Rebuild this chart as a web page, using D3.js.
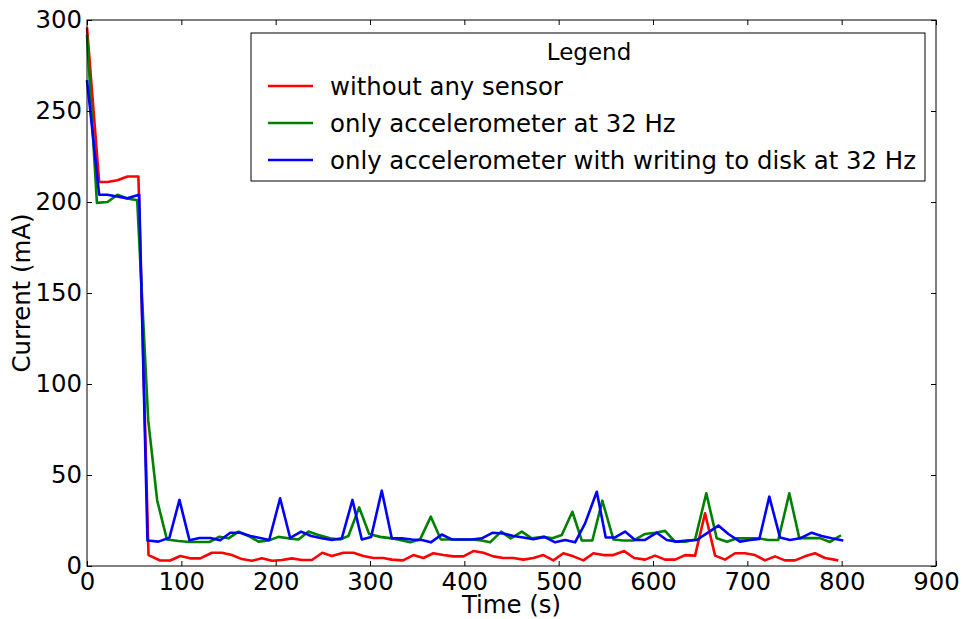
<!DOCTYPE html>
<html>
<head>
<meta charset="utf-8">
<script src="https://cdn.jsdelivr.net/npm/d3@7"></script>
<style>
  body { margin: 0; background: #fff; }
  text { font-family: "DejaVu Sans", sans-serif; }
</style>
</head>
<body>
<div id="chart"></div>
<script>
// time stamps (s) and current (mA)
var redTime = [0, 12.9, 21.7, 32.3, 42.9, 54.5, 65.2, 77.6, 88.2, 98.8, 109.4, 120, 132.4, 143, 153.6, 164.2, 174.8, 185.4, 196, 206.6, 217.2, 227.8, 238.4, 249.5, 259.5, 271.8, 282.4, 293, 303.6, 314.2, 323, 335, 346, 356.6, 367.2, 377.8, 388.4, 399, 409.6, 420.2, 430.8, 441.4, 452, 462.6, 473.2, 483.8, 494.4, 505, 515.6, 526.2, 536.8, 547.4, 558, 569.5, 580, 591.6, 602.2, 612.8, 623.4, 634, 644.6, 655.2, 665.8, 676.4, 687, 697.5, 708.1, 718.7, 729.3, 739.9, 750.5, 761.1, 771.7, 782.3, 796.4];
var redCurrent = [296, 211, 211, 212, 214, 214, 6, 3, 3, 5.5, 4.2, 4.2, 7.3, 7.3, 6, 3.8, 2.9, 4.2, 2.9, 3.3, 4.2, 3.3, 3.3, 7.3, 5.5, 7.3, 7.3, 5.5, 4.4, 4.4, 3.5, 3.1, 6, 4.4, 7, 6, 5.3, 5.3, 8.2, 7.3, 5.3, 4.4, 4.4, 3.5, 4.4, 6, 3.1, 7, 5.3, 3.1, 7, 6, 6, 8.2, 4.4, 3.5, 5.7, 3.5, 3.5, 6, 5.7, 29, 5.7, 3.5, 7, 7, 6, 3.1, 5.3, 3.1, 3.1, 5.3, 7, 4.4, 3.1];

var greenTime = [0, 10.5, 21.7, 32.3, 42.6, 53.2, 64.9, 74.4, 84.7, 97, 108.6, 119.2, 129.8, 140.4, 150, 160.6, 171.2, 181.8, 192.4, 203, 213.5, 224.1, 234.7, 245.3, 257.7, 268.3, 277.1, 288.5, 299.1, 310.7, 323.1, 331.9, 342.5, 353.1, 364.5, 375.1, 385.7, 397.3, 407.9, 418.5, 427.3, 439, 449.2, 460.9, 471.5, 483.8, 493.3, 503.3, 514.5, 524.5, 535.7, 546.3, 558, 568.6, 579.2, 591.6, 602.2, 612.8, 623.4, 634, 644.6, 656.5, 667.6, 678.5, 689.1, 699.7, 711.6, 722.2, 732.8, 744.5, 755.1, 766.4, 777, 787.6, 799.3];
var greenCurrent = [292, 199.5, 200, 204, 202, 201, 80, 36, 14.6, 13.7, 13.2, 13.2, 13.2, 16.1, 15.2, 18.9, 16.5, 13.4, 14, 16, 15.2, 14.6, 18.9, 17, 15.2, 14.6, 16.5, 32.2, 17.6, 16, 15.2, 14.3, 13, 14.6, 27.1, 14.6, 14.6, 14.6, 14.6, 14, 13, 18.9, 15.2, 18.9, 15.2, 16, 15.2, 17, 29.8, 14, 14, 35.9, 14.6, 14, 14, 17.6, 18.3, 19.3, 13.3, 13.3, 14.5, 39.9, 15.2, 13.3, 15.2, 15.2, 15.2, 14.3, 14.3, 39.9, 15.3, 15.3, 15.3, 13.2, 16.9];

var blueTime = [0, 12.9, 21.4, 32, 42.6, 55.3, 64.1, 75.8, 87.4, 98, 108.6, 119.2, 130.6, 141.2, 151.8, 162.4, 173, 183.6, 193.1, 204.7, 215.4, 227, 237.6, 248.9, 259.5, 270.1, 281.4, 291.3, 301.2, 312.5, 323.1, 333.7, 344.3, 354.9, 364.5, 376.1, 386.7, 397.3, 407.9, 418.5, 430.2, 441.4, 452, 462.6, 473.2, 484.8, 496.2, 506.8, 517.4, 528, 540.4, 549.9, 559.8, 570.4, 581, 591.6, 604, 614.6, 625.2, 635.8, 646.4, 657, 669.3, 679.9, 692.2, 702.8, 712.7, 723.3, 734.6, 745.2, 755.8, 768.2, 778.8, 789.4, 801.7];
var blueCurrent = [267, 204, 204, 203, 202, 204, 14, 13.4, 15.6, 36.3, 14.2, 15.4, 15.4, 14.1, 18.3, 18.3, 16.5, 15.4, 14.3, 37.2, 15.4, 18.9, 16.5, 15.2, 14.3, 15.2, 36.3, 14.6, 16, 41.4, 15.2, 15.2, 14.6, 14.3, 13, 17.3, 14.6, 14.6, 14.6, 15.2, 18.3, 17.9, 16.5, 15.7, 14.7, 16, 13, 14.3, 13, 23.4, 40.8, 15.7, 15.7, 18.9, 14.3, 14.3, 18.3, 14.3, 13.4, 14, 14.3, 17.9, 22.2, 17.6, 13.4, 14.3, 14.8, 38.1, 15.7, 14.3, 15.2, 18.3, 16.5, 15.2, 14];

var seriesNames = ["without any sensor", "only accelerometer at 32 Hz", "only accelerometer with writing to disk at 32 Hz"];
var seriesColors = ["#ff0000", "#008000", "#0000ff"];
var xTicks = [0, 100, 200, 300, 400, 500, 600, 700, 800, 900];
var yTicks = [0, 50, 100, 150, 200, 250, 300];

var width = 963, height = 619;
var plotLeft = 87, plotRight = 936, plotTop = 20, plotBottom = 566;
var fontSize = 24.4;

var svg = d3.select("#chart").append("svg")
            .attr("width", width)
            .attr("height", height);

svg.append("rect").attr("width", width).attr("height", height).attr("fill", "#fff");

var x = d3.scaleLinear().domain([0, 900]).range([plotLeft, plotRight]);
var y = d3.scaleLinear().domain([0, 300]).range([plotBottom, plotTop]);

// build point lists per series
function zip(t, v) {
    return t.map(function(d, i) { return [d, v[i]]; });
}
var series = [zip(redTime, redCurrent), zip(greenTime, greenCurrent), zip(blueTime, blueCurrent)];

var line = d3.line()
             .x(function(d) { return x(d[0]); })
             .y(function(d) { return y(d[1]); });

svg.selectAll("path.series")
   .data(series)
   .enter()
   .append("path")
   .attr("class", "series")
   .attr("d", line)
   .attr("fill", "none")
   .attr("stroke", function(d, i) { return seriesColors[i]; })
   .attr("stroke-width", 2.6)
   .attr("stroke-linejoin", "round");

// axes, ticks pointing inward on all four sides
function styleAxis(g) {
    g.select(".domain").remove();
    g.selectAll("line").attr("stroke", "#000").attr("stroke-width", 1);
    g.selectAll("text").attr("font-size", fontSize).attr("fill", "#000")
     .attr("font-family", "DejaVu Sans");
}

svg.append("g").attr("transform", "translate(0," + plotBottom + ")")
   .call(d3.axisBottom(x).tickValues(xTicks).tickSizeInner(-5).tickSizeOuter(0).tickPadding(7))
   .call(styleAxis);
svg.append("g").attr("transform", "translate(0," + plotTop + ")")
   .call(d3.axisTop(x).tickValues(xTicks).tickSizeInner(-5).tickSizeOuter(0).tickFormat(""))
   .call(styleAxis);
svg.append("g").attr("transform", "translate(" + plotLeft + ",0)")
   .call(d3.axisLeft(y).tickValues(yTicks).tickSizeInner(-5).tickSizeOuter(0).tickPadding(5))
   .call(styleAxis);
svg.append("g").attr("transform", "translate(" + plotRight + ",0)")
   .call(d3.axisRight(y).tickValues(yTicks).tickSizeInner(-5).tickSizeOuter(0).tickFormat(""))
   .call(styleAxis);

// frame
svg.append("rect")
   .attr("x", plotLeft).attr("y", plotTop)
   .attr("width", plotRight - plotLeft).attr("height", plotBottom - plotTop)
   .attr("fill", "none").attr("stroke", "#000").attr("stroke-width", 1);

// axis labels
svg.append("text")
   .attr("x", (plotLeft + plotRight) / 2).attr("y", 613)
   .attr("text-anchor", "middle").attr("font-size", fontSize)
   .text("Time (s)");
svg.append("text")
   .attr("transform", "translate(30," + (plotTop + plotBottom) / 2 + ") rotate(-90)")
   .attr("text-anchor", "middle").attr("font-size", fontSize)
   .text("Current (mA)");

// legend
var legend = svg.append("g");
legend.append("rect")
      .attr("x", 251).attr("y", 33).attr("width", 674).attr("height", 148)
      .attr("fill", "#fff").attr("stroke", "#000").attr("stroke-width", 1);
legend.append("text")
      .attr("x", 589).attr("y", 60)
      .attr("text-anchor", "middle").attr("font-size", 23)
      .text("Legend");
seriesNames.forEach(function(name, i) {
    var ly = 86 + i * 37;
    legend.append("line")
          .attr("x1", 268).attr("x2", 313).attr("y1", ly).attr("y2", ly)
          .attr("stroke", seriesColors[i]).attr("stroke-width", 2.6);
    legend.append("text")
          .attr("x", 330).attr("y", ly + 8.5)
          .attr("font-size", fontSize)
          .text(name);
});
</script>
</body>
</html>
